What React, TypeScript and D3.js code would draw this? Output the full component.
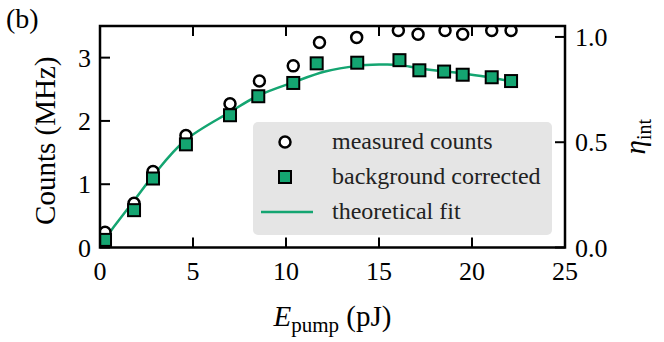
import React from "react";
import * as d3 from "d3";

const measuredX = [0.27, 1.83, 2.85, 4.62, 6.99, 8.57, 10.39, 11.8, 13.8, 16.04, 17.1, 18.55, 19.5, 21.06, 22.1];
const measuredY = [0.24, 0.7, 1.2, 1.77, 2.27, 2.63, 2.87, 3.24, 3.32, 3.43, 3.37, 3.43, 3.37, 3.43, 3.43];
const correctedX = [0.27, 1.83, 2.85, 4.62, 6.99, 8.51, 10.39, 11.65, 13.83, 16.1, 17.17, 18.5, 19.5, 21.06, 22.1];
const correctedY = [0.12, 0.59, 1.09, 1.63, 2.09, 2.39, 2.6, 2.91, 2.92, 2.96, 2.8, 2.78, 2.73, 2.69, 2.63];
const fitX = [0.1, 0.6, 1.88, 2.87, 4.57, 6.99, 8.51, 10.39, 12.1, 13.8, 15.0, 16.1, 17.2, 19.5, 20.97, 22.1];
const fitY = [0.07, 0.27, 0.76, 1.14, 1.69, 2.14, 2.4, 2.61, 2.78, 2.87, 2.89, 2.885, 2.83, 2.75, 2.69, 2.62];

const xTicks = [0, 5, 10, 15, 20, 25];
const yTicks = [0, 1, 2, 3];
const etaTicks = [0.0, 0.5, 1.0];
const legendLabels = ["measured counts", "background corrected", "theoretical fit"];

const W = 664, H = 342;
const L = 100, R = 565, T = 26, B = 247.5;
const GREEN = "#14a571";
const FONT = "'Liberation Serif', 'Times New Roman', serif";

export default function App() {
  const x = d3.scaleLinear().domain([0, 25]).range([L, R]);
  const y = d3.scaleLinear().domain([0, 3.5]).range([B, T]);
  const eta = d3.scaleLinear().domain([0, 1.052]).range([B, T]);
  const line = d3.line<number>().x((_, i) => x(fitX[i])).y((d) => y(d)).curve(d3.curveCatmullRom);
  const tk = 10;
  const sq = 12;
  return (
    <svg width={W} height={H} style={{ position: "absolute", left: 0, top: 0 }} fontFamily={FONT}>
      <defs>
        <clipPath id="plot">
          <rect x={L} y={T} width={R - L} height={B - T} />
        </clipPath>
      </defs>
      <rect x={0} y={0} width={W} height={H} fill="#fff" />
      <text x={6} y={28} fontSize={28} fill="#000">(b)</text>

      <g clipPath="url(#plot)">
        <path d={line(fitY) || ""} fill="none" stroke={GREEN} strokeWidth={2.5} />
        {measuredX.map((v, i) => (
          <circle key={"c" + i} cx={x(v)} cy={y(measuredY[i])} r={5.5} fill="#fff" stroke="#000" strokeWidth={2.5} />
        ))}
        {correctedX.map((v, i) => (
          <rect key={"s" + i} x={x(v) - sq / 2} y={y(correctedY[i]) - sq / 2} width={sq} height={sq} fill={GREEN} stroke="#000" strokeWidth={2} />
        ))}
      </g>

      {/* legend */}
      <rect x={253} y={122} width={299} height={113} rx={5} fill="#e5e5e5" />
      <circle cx={285} cy={142} r={5.5} fill="#fff" stroke="#000" strokeWidth={2.5} />
      <rect x={285 - sq / 2} y={177 - sq / 2} width={sq} height={sq} fill={GREEN} stroke="#000" strokeWidth={2} />
      <line x1={261} x2={313} y1={212} y2={212} stroke={GREEN} strokeWidth={2.5} />
      {legendLabels.map((t, i) => (
        <text key={t} x={332} y={149 + i * 35} fontSize={24} fill="#222">{t}</text>
      ))}

      {/* ticks */}
      {xTicks.map((v) => (
        <g key={"xt" + v}>
          <line x1={x(v)} x2={x(v)} y1={B} y2={B - tk} stroke="#000" strokeWidth={2} />
          {v > 0 && v < 25 && <line x1={x(v)} x2={x(v)} y1={T} y2={T + tk} stroke="#000" strokeWidth={2} />}
          <text x={x(v)} y={280} fontSize={26} textAnchor="middle">{v}</text>
        </g>
      ))}
      {yTicks.map((v) => (
        <g key={"yt" + v}>
          <line x1={L} x2={L + tk} y1={y(v)} y2={y(v)} stroke="#000" strokeWidth={2} />
          <text x={91} y={y(v)} dy="0.35em" fontSize={26} textAnchor="end">{v}</text>
        </g>
      ))}
      {etaTicks.map((v) => (
        <g key={"et" + v}>
          <line x1={R} x2={R - tk} y1={eta(v)} y2={eta(v)} stroke="#000" strokeWidth={2} />
          <text x={575} y={eta(v)} dy="0.35em" fontSize={26} textAnchor="start">{v.toFixed(1)}</text>
        </g>
      ))}

      <rect x={L} y={T} width={R - L} height={B - T} fill="none" stroke="#000" strokeWidth={2.5} />

      <text transform={`translate(55,${(T + B) / 2 + 4}) rotate(-90)`} fontSize={29} textAnchor="middle">Counts (MHz)</text>
      <text transform={`translate(645,${(T + B) / 2}) rotate(-90)`} fontSize={29} textAnchor="middle">
        <tspan fontStyle="italic">η</tspan>
        <tspan fontSize={20} dy={6}>int</tspan>
      </text>
      <text x={(L + R) / 2} y={326} fontSize={29} textAnchor="middle">
        <tspan fontStyle="italic">E</tspan>
        <tspan fontSize={21} dy={6}>pump</tspan>
        <tspan dy={-6}> (pJ)</tspan>
      </text>
    </svg>
  );
}
